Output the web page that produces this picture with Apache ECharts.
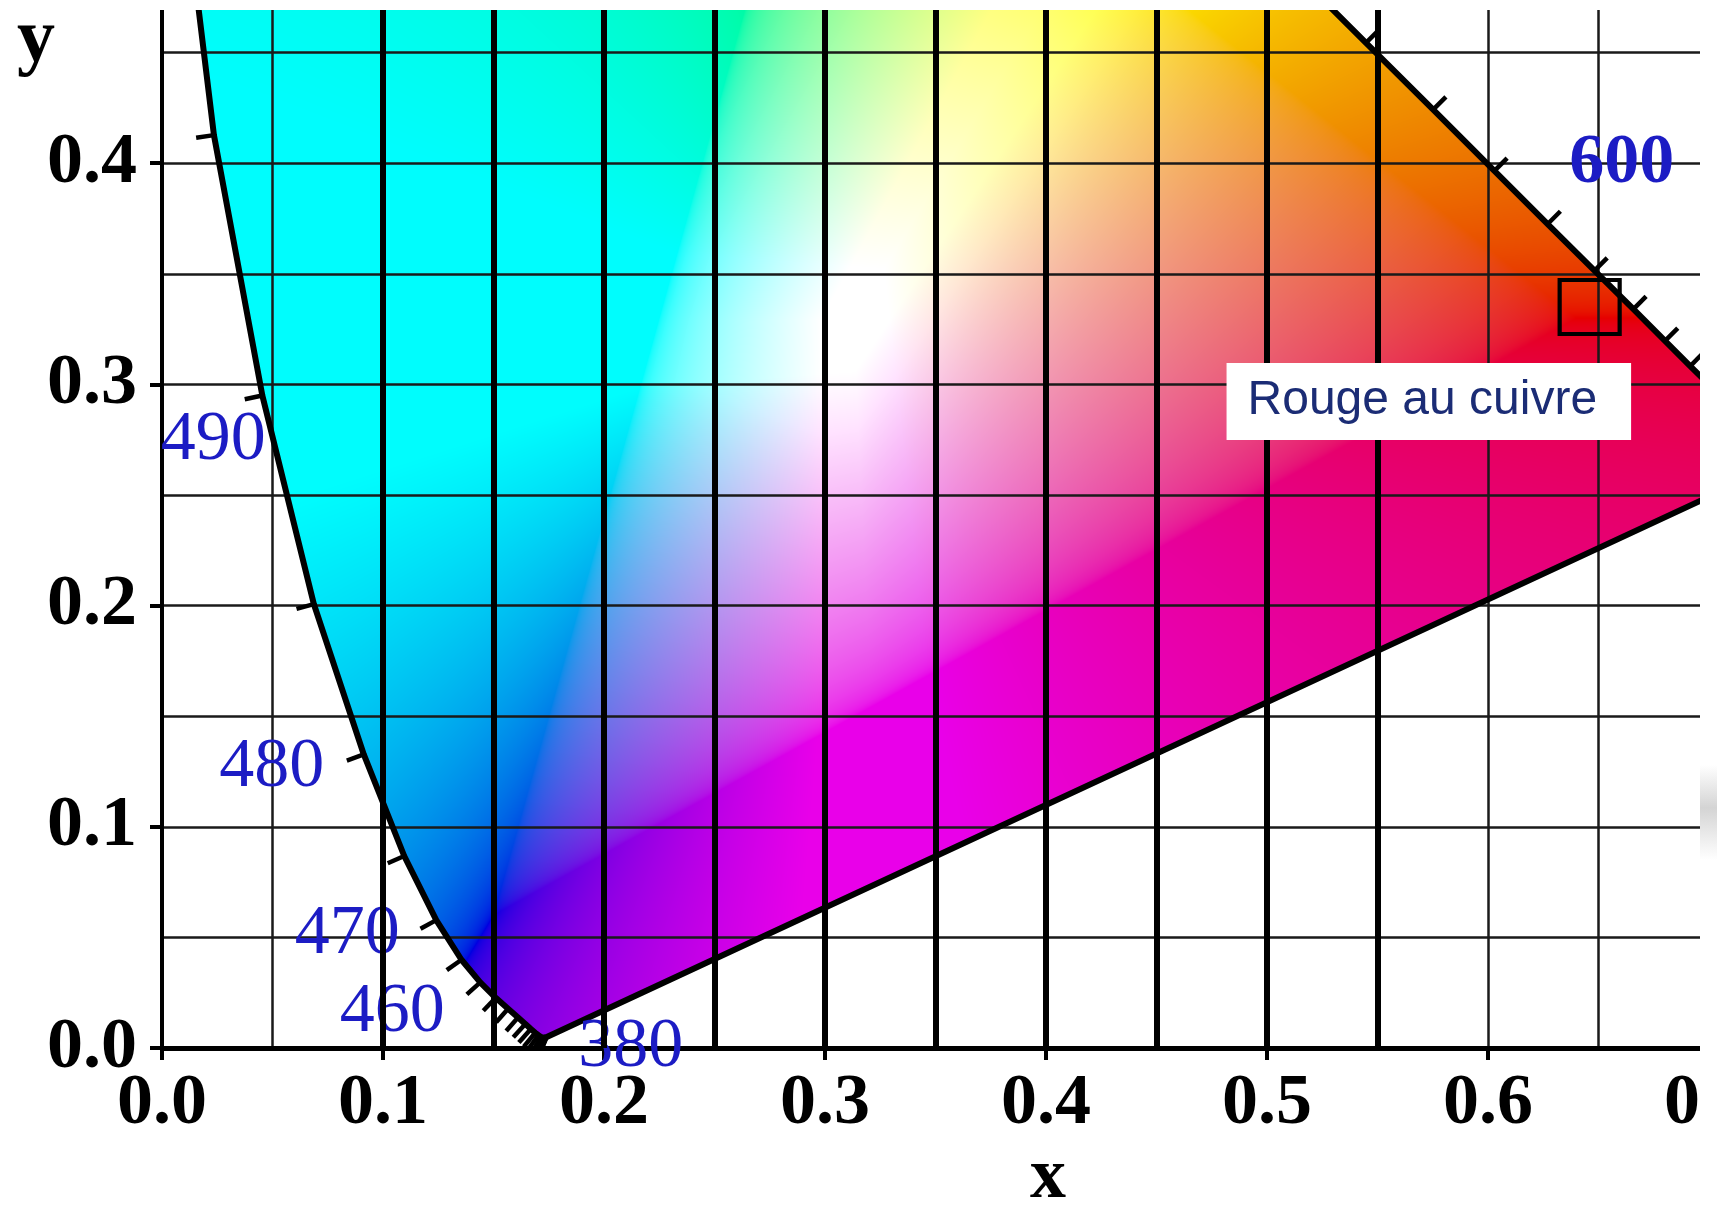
<!DOCTYPE html>
<html><head><meta charset="utf-8">
<script src="https://cdn.jsdelivr.net/npm/echarts@6/dist/echarts.min.js"></script>
<style>html,body{margin:0;padding:0;background:#fff}#c{width:1717px;height:1208px}</style>
</head><body><div id="c"></div>
<script>
// ---- data ----
const wavelengths = [380,385,390,395,400,405,410,415,420,425,430,435,440,445,450,455,460,465,470,475,480,485,490,495,500,505,510,515,520,525,530,535,540,545,550,555,560,565,570,575,580,585,590,595,600,605,610,615,620,625,630,635,640,645,650,655,660,665,670,675,680,685,690,695,700];
const locusX = [0.1741,0.1740,0.1738,0.1736,0.1733,0.1730,0.1726,0.1721,0.1714,0.1703,0.1689,0.1669,0.1644,0.1611,0.1566,0.1510,0.1440,0.1355,0.1241,0.1096,0.0913,0.0687,0.0454,0.0235,0.0082,0.0039,0.0139,0.0389,0.0743,0.1142,0.1547,0.1929,0.2296,0.2658,0.3016,0.3373,0.3731,0.4087,0.4441,0.4788,0.5125,0.5448,0.5752,0.6029,0.6270,0.6482,0.6658,0.6801,0.6915,0.7006,0.7079,0.7140,0.7190,0.7230,0.7260,0.7283,0.7300,0.7311,0.7320,0.7327,0.7334,0.7340,0.7344,0.7346,0.7347];
const locusY = [0.0050,0.0050,0.0049,0.0049,0.0048,0.0048,0.0048,0.0048,0.0051,0.0058,0.0069,0.0086,0.0109,0.0138,0.0177,0.0227,0.0297,0.0399,0.0578,0.0868,0.1327,0.2007,0.2950,0.4127,0.5384,0.6548,0.7502,0.8120,0.8338,0.8262,0.8059,0.7816,0.7543,0.7243,0.6923,0.6589,0.6245,0.5896,0.5547,0.5202,0.4866,0.4544,0.4242,0.3965,0.3725,0.3514,0.3340,0.3197,0.3083,0.2993,0.2920,0.2859,0.2809,0.2770,0.2740,0.2717,0.2700,0.2689,0.2680,0.2673,0.2666,0.2660,0.2656,0.2654,0.2653];
const labelledWavelengths = [380, 460, 470, 480, 490, 600];
const thickGridX = [0.1,0.15,0.2,0.25,0.3,0.35,0.4,0.45,0.5,0.55];
const whitePoint = [0.3127, 0.3290];
const sampleName = 'Rouge au cuivre';
const samplePoint = [0.646, 0.335];
const xAxisName = 'x';
const yAxisName = 'y';

// ---- styling (pixels) ----
const labelOffsets = {380:[84,11],460:[-88,30],470:[-89,14],480:[-92,13],490:[-49,45],600:[74,-60]};
const labelBold = {600:true};

function gam(c){ c=Math.min(1,c); return c <= 0.0031308 ? 12.92*c : 1.055*Math.pow(c,1/2.4)-0.055; }
function chroma(x,y){
  const X=x/y, Y=1, Z=(1-x-y)/y;
  let r= 3.2406*X-1.5372*Y-0.4986*Z;
  let g=-0.9689*X+1.8758*Y+0.0415*Z;
  let b= 0.0557*X-0.2040*Y+1.0570*Z;
  const m=Math.min(r,g,b);
  if(m<0){r-=m;g-=m;b-=m;}
  const M=Math.max(r,g,b)||1;
  const F=1.25;
  r=Math.min(1,r/M*F); g=Math.min(1,g/M*F); b=Math.min(1,b/M*F);
  const lum=0.2126*r+0.7152*g+0.0722*b;
  const dim=0.87+0.13*Math.min(1,lum*1.2);
  return [gam(r)*dim,gam(g)*dim,gam(b)*dim];
}

let fillCanvas=null, fillKey='';
function buildFill(cs, api){
  const w=Math.round(cs.width), h=Math.round(cs.height);
  const key=[cs.x,cs.y,w,h].join(',');
  if(fillCanvas && fillKey===key) return fillCanvas;
  const p0=api.coord([0,0]), p1=api.coord([1,1]);
  const sx=p1[0]-p0[0], sy=p1[1]-p0[1];
  const tmp=document.createElement('canvas'); tmp.width=w; tmp.height=h;
  const tctx=tmp.getContext('2d');
  const img=tctx.createImageData(w,h); const d=img.data;
  for(let j=0;j<h;j++){
    const y=(cs.y+j+0.5-p0[1])/sy;
    if(y<=0.002) continue;
    for(let i=0;i<w;i++){
      const x=(cs.x+i+0.5-p0[0])/sx;
      const c=chroma(x,y);
      const k=(j*w+i)*4;
      d[k]=Math.max(0,Math.min(255,c[0]*255));
      d[k+1]=Math.max(0,Math.min(255,c[1]*255));
      d[k+2]=Math.max(0,Math.min(255,c[2]*255));
      d[k+3]=255;
    }
  }
  tctx.putImageData(img,0,0);
  const out=document.createElement('canvas'); out.width=w; out.height=h;
  const octx=out.getContext('2d');
  octx.beginPath();
  for(let i=0;i<wavelengths.length;i++){
    const p=api.coord([locusX[i],locusY[i]]);
    if(i===0) octx.moveTo(p[0]-cs.x,p[1]-cs.y); else octx.lineTo(p[0]-cs.x,p[1]-cs.y);
  }
  octx.closePath(); octx.clip();
  octx.drawImage(tmp,0,0);
  fillCanvas=out; fillKey=key;
  return out;
}

const chart=echarts.init(document.getElementById('c'),null,{renderer:'canvas'});
const tickFont={fontFamily:'Liberation Serif',fontWeight:'bold',fontSize:72,color:'#000'};

const option={
  animation:false,
  backgroundColor:'#fff',
  grid:{left:162,right:8,top:-58,bottom:160,containLabel:false,outerBoundsMode:'none'},
  xAxis:{type:'value',min:0,max:0.7,interval:0.1,
    axisLine:{show:true,onZero:false,lineStyle:{color:'#000',width:5}},
    axisTick:{show:true,length:12,lineStyle:{color:'#000',width:4}},
    axisLabel:Object.assign({margin:20,formatter:v=>v.toFixed(1),hideOverlap:false},tickFont),
    splitLine:{show:true,lineStyle:{color:'#1a1a1a',width:2.5}},
    minorTick:{show:false,splitNumber:2},
    minorSplitLine:{show:true,lineStyle:{color:'#1a1a1a',width:2.5}}
  },
  yAxis:{type:'value',min:0,max:0.5,interval:0.1,
    axisLine:{show:true,onZero:false,lineStyle:{color:'#000',width:4}},
    axisTick:{show:true,length:12,lineStyle:{color:'#000',width:4}},
    axisLabel:Object.assign({margin:25,formatter:v=>v.toFixed(1),hideOverlap:false},tickFont),
    splitLine:{show:true,lineStyle:{color:'#1a1a1a',width:2.5}},
    minorTick:{show:false,splitNumber:2},
    minorSplitLine:{show:true,lineStyle:{color:'#1a1a1a',width:2.5}}
  },
  series:[
    {type:'custom',name:'gamut',z:-1,silent:true,clip:true,data:[[0,0]],
     renderItem:function(params,api){
       const cs=params.coordSys;
       const c=buildFill(cs,api);
       return {type:'image',silent:true,style:{image:c,x:cs.x,y:cs.y,width:c.width,height:c.height}};
     }},
    {type:'scatter',name:'grid',z:1,silent:true,data:[],
     markLine:{silent:true,symbol:['none','none'],label:{show:false},animation:false,
       lineStyle:{color:'#000',width:6,type:'solid',opacity:1},
       data:thickGridX.map(v=>({xAxis:v}))}},
    {type:'custom',name:'locus',z:3,silent:true,clip:true,data:[[0,0]],
     renderItem:function(params,api){
       const pts=wavelengths.map((_,i)=>api.coord([locusX[i],locusY[i]]));
       const wp=api.coord(whitePoint);
       const children=[{type:'polygon',shape:{points:pts},style:{fill:'none',stroke:'#000',lineWidth:6,lineJoin:'round'}}];
       for(let i=0;i<pts.length;i++){
         const a=pts[Math.max(0,i-1)], b=pts[Math.min(pts.length-1,i+1)];
         let tx=b[0]-a[0], ty=b[1]-a[1];
         let L=Math.hypot(tx,ty);
         let nx,ny;
         const ox=pts[i][0]-wp[0], oy=pts[i][1]-wp[1];
         if(L<4){ const l2=Math.hypot(ox,oy); nx=ox/l2; ny=oy/l2; }
         else { nx=ty/L; ny=-tx/L; if(nx*ox+ny*oy<0){nx=-nx;ny=-ny;} }
         const len=18;
         children.push({type:'line',shape:{x1:pts[i][0],y1:pts[i][1],x2:pts[i][0]+nx*len,y2:pts[i][1]+ny*len},
           style:{stroke:'#000',lineWidth:4.5}});
       }
       return {type:'group',children:children};
     }},
    {type:'scatter',name:'wavelength labels',z:4,silent:true,symbolSize:0,itemStyle:{opacity:1},
     data:labelledWavelengths.map(w=>{const i=wavelengths.indexOf(w);
       return {value:[locusX[i],locusY[i],w],
         label:{show:true,formatter:String(w),offset:labelOffsets[w],position:'inside',opacity:1,
           fontFamily:'Liberation Serif',fontSize:70,fontWeight:labelBold[w]?'bold':'normal',color:'#1c1cc4',
           align:'center',verticalAlign:'middle'}};})},
    {type:'scatter',name:sampleName,z:5,silent:true,symbol:'rect',symbolSize:[60,54],
     itemStyle:{color:'rgba(0,0,0,0)',borderColor:'#000',borderWidth:4,opacity:1},
     label:{show:true,formatter:sampleName,position:[-331,85],align:'left',verticalAlign:'top',opacity:1,
       backgroundColor:'#fff',padding:[12,34,13,21],fontFamily:'Liberation Sans',fontSize:48,lineHeight:52,color:'#1b2c75'},
     data:[samplePoint]}
  ],
  graphic:[
    {type:'rect',z:100,silent:true,shape:{x:0,y:0,width:1717,height:10},style:{fill:'#fff'}},
    {type:'rect',z:100,silent:true,shape:{x:1700,y:0,width:17,height:1208},style:{fill:'#fff'}},
    {type:'rect',z:101,silent:true,shape:{x:1700,y:765,width:17,height:95},
      style:{fill:new echarts.graphic.LinearGradient(0,0,0,1,[{offset:0,color:'#ffffff'},{offset:0.45,color:'#d4d4d4'},{offset:1,color:'#ffffff'}])}},
    {type:'text',z:100,silent:true,x:36,y:41,style:{text:yAxisName,font:'bold 76px "Liberation Serif"',fill:'#000',align:'center',verticalAlign:'middle'}},
    {type:'text',z:100,silent:true,x:1048,y:1178,style:{text:xAxisName,font:'bold 72px "Liberation Serif"',fill:'#000',align:'center',verticalAlign:'middle'}}
  ]
};
chart.setOption(option);
</script></body></html>
